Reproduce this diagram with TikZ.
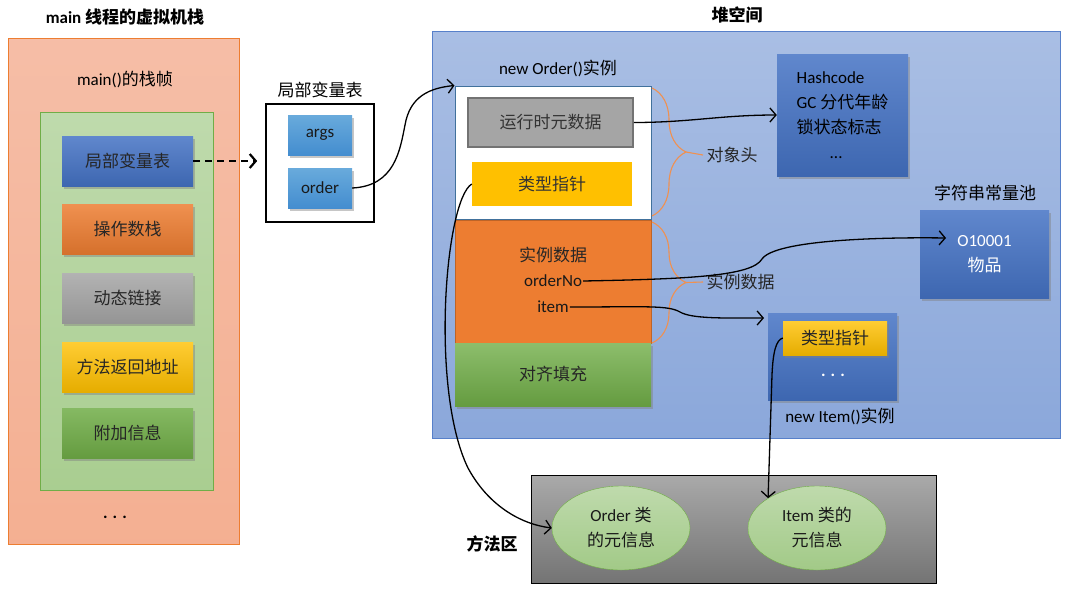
\documentclass[tikz,border=0pt]{standalone}
\usepackage{fontspec}
\setmainfont{Carlito}
\newfontfamily\zh{Noto Sans CJK SC}
\usepackage{xcolor}
\usetikzlibrary{positioning, shapes.geometric, shadows, arrows.meta, decorations.pathreplacing}

\newcommand\bodysize{\fontsize{17}{25}\selectfont}

\definecolor{ofsalmon}{HTML}{F4B297}
\definecolor{oforange}{HTML}{ED7D31}
\definecolor{ofgreen}{HTML}{70AD47}
\definecolor{ofblue}{HTML}{4472C4}
\definecolor{ofgray}{HTML}{A5A5A5}
\definecolor{ofgold}{HTML}{FFC000}
\definecolor{ofsteel}{HTML}{41719C}

\tikzset{
  zhtext/.style={font=\zh\bodysize},
  shd/.style={drop shadow={shadow xshift=2pt, shadow yshift=-2.5pt, opacity=0.45}},
  blk/.style={minimum width=131pt, minimum height=50pt, inner sep=0pt, zhtext, text=black!85, shd},
  bluebox/.style={top color=ofblue!85!white, bottom color=ofblue!90!black, inner sep=0pt, shd},
  var/.style={minimum width=64pt, minimum height=40pt, inner sep=0pt, text=black!90,
    top color=cyan!20!ofblue!75!white, bottom color=cyan!15!ofblue!95, shd},
  meta/.style={ellipse, minimum width=138pt, minimum height=84pt, inner sep=0pt, draw=ofgreen,
    top color=ofgreen!45!white, bottom color=ofgreen!65!white, text=black!90},
  arr/.style={-{Straight Barb[length=6pt, width=14pt]}, line width=1.3pt},
  dasharr/.style={-{Straight Barb[length=6pt, width=14pt]}, line width=2.2pt, dash pattern=on 7pt off 5pt},
  brc/.style={decorate, decoration={brace, amplitude=34pt}, draw=oforange!85!white, line width=1.1pt},
}

\begin{document}
\begin{tikzpicture}[x=1pt, y=1pt, font=\bodysize]
\useasboundingbox (0,0) rectangle (1069,-590);

% 仮想マシンスタック
\node (stitle) at (125,-17) {\bfseries main {\zh 线程的虚拟机栈}};
\draw[oforange, top color=ofsalmon!85!white, bottom color=ofsalmon!95!oforange] (8,-38) rectangle (239,-544);
\node (frame) at (125,-80) {main()\zh 的栈帧};
\draw[ofgreen, top color=ofgreen!45!white, bottom color=ofgreen!60!white] (40,-112) rectangle (213,-490);

\node[blk, top color=ofblue!85!white, bottom color=ofblue!90!black] (lvt) at (127.5,-161) {局部变量表};
\node[blk, top color=oforange!85!white, bottom color=oforange!90!black] (ops) at (127.5,-229) {操作数栈};
\node[blk, top color=ofgray!85!white, bottom color=ofgray!90!black] (dyn) at (127.5,-298) {动态链接};
\node[blk, top color=ofgold!80!white, bottom color=ofgold!90!black] (ret) at (127.5,-367) {方法返回地址};
\node[blk, top color=ofgreen!85!white, bottom color=ofgreen!90!black] (add) at (127.5,-433) {附加信息};
\node (sdots) at (115,-517) {\textbf{. . .}};

% 局部変数表
\node (lvtlabel) at (320,-90) {\zh 局部变量表};
\node[draw, line width=1.6pt, minimum width=108pt, minimum height=118pt] (lvtbox) at (320,-163) {};
\node[var] (args) at (320,-135) {args};
\node[var] (order) at (320,-188) {order};
\draw[dasharr, shorten >=8pt] (lvt.east) -- (lvt.east -| lvtbox.west);

% ヒープ
\node (htitle) at (737,-15) {\zh\bfseries 堆空间};
\draw[ofblue!90, top color=ofblue!46!white, bottom color=ofblue!62!white] (432,-31) rectangle (1060,-438);

\node (olabel) at (558,-68) {new Order()\zh 实例};
\node[draw=ofsteel, line width=1pt, fill=white, minimum width=196pt, minimum height=133pt] (ohead) at (553,-152.5) {};
\node[draw=oforange!80!black, line width=1pt, fill=oforange, minimum width=196pt, minimum height=123pt] (odata) at (553,-281.5) {};
\node[blk, minimum width=196pt, minimum height=63pt, top color=ofgreen!80!white, bottom color=ofgreen!90!black] (opad) at (553,-374.5) {对齐填充};
\node[draw=ofgray!70!black, line width=1.5pt, fill=ofgray, minimum width=165pt, minimum height=49pt, zhtext, text=black!80] (omet) at (550.5,-122.5) {运行时元数据};
\node[fill=ofgold, minimum width=160pt, minimum height=44pt, zhtext, text=black!80] (optr) at (552,-184) {类型指针};
\node[zhtext, text=black!85] (dtitle) at (553,-255) {实例数据};
\node[inner sep=1pt, text=black!90] (orderno) at (553,-281) {orderNo};
\node[inner sep=1pt, text=black!90] (itemf) at (553,-307) {item};

\draw[brc] (652,-88) -- (652,-216);
\draw[brc] (652,-222) -- (652,-343);
\node[anchor=west, zhtext, text=black!85] (hlabel) at (703,-155) {对象头};
\node[anchor=west, zhtext, text=black!85] (dlabel) at (703,-282) {实例数据};
\draw[oforange!85!white, line width=1.1pt] (686,-152) -- (hlabel.west);
\draw[oforange!85!white, line width=1.1pt] (686,-282.5) -- (dlabel.west);

\node[bluebox, minimum width=131pt, minimum height=122pt, align=left, text=black] (hash) at (842.5,-115)
  {Hashcode\\GC {\zh 分代年龄}\\{\zh 锁状态标志}\\\hspace*{33pt}...};
\node (plabel) at (985,-193) {\zh 字符串常量池};
\node[bluebox, minimum width=129pt, minimum height=88pt, align=center, text=white] (pool) at (984.5,-254)
  {O10001\\{\zh 物品}};
\coordinate (poolpin) at (946,-238);

\node[bluebox, minimum width=129pt, minimum height=87pt] (ibox) at (832.5,-356.5) {};
\node[blk, minimum width=104pt, minimum height=34pt, top color=ofgold!80!white, bottom color=ofgold!90!black] (iptr) at (835,-338) {类型指针};
\node[text=white] (idots) at (833,-375) {\textbf{. . .}};
\node (ilabel) at (840,-416) {new Item()\zh 实例};
\coordinate (itempin) at (764,-318);

% メソッド領域
\node (mtitle) at (492,-544) {\zh\bfseries 方法区};
\draw[black, top color=ofgray!95!white, bottom color=ofgray!70!black] (531,-475) rectangle (936,-583);
\node[meta, align=center] (ell1) at (621,-528) {Order {\zh 类}\\{\zh 的元信息}};
\node[meta, align=center] (ell2) at (817,-528) {Item {\zh 类的}\\{\zh 元信息}};

% 参照
\draw[arr] (order.east) .. controls (395,-186) and (400,-150) .. (405,-125)
  .. controls (410,-96) and (430,-88) .. (ohead.north west);
\draw[arr] (omet.east) to[out=0, in=180] (hash.west);
\draw[arr] (orderno.east) .. controls (690,-279) and (752,-276) .. (762,-259)
  .. controls (775,-240) and (880,-237) .. (poolpin);
\draw[arr] (itemf.east) .. controls (645,-307) and (668,-305) .. (680,-312)
  .. controls (692,-319) and (725,-318) .. (itempin);
\draw[arr] (iptr.west) .. controls (776,-340) and (773,-352) .. (772,-375) -- (ell2.north west);
\draw[arr] (optr.west) .. controls (445,-200) and (430,-390) .. (468,-468)
  .. controls (488,-505) and (520,-524) .. (ell1.west);
\end{tikzpicture}
\end{document}
